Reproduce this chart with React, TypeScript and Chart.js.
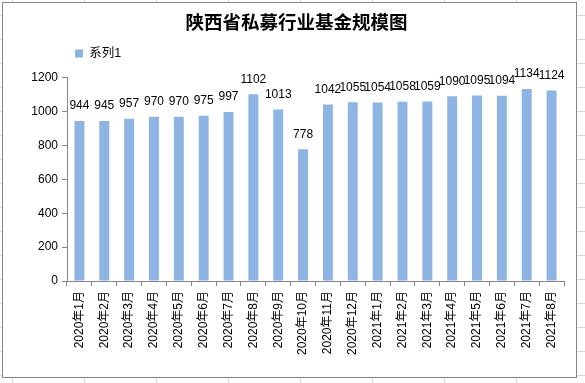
import React, { useEffect, useRef } from "react";
import { Chart, registerables } from "chart.js";

Chart.register(...registerables);

const chartTitle = "陕西省私募行业基金规模图";
const seriesName = "系列1";
const categories = [
  "2020年1月", "2020年2月", "2020年3月", "2020年4月", "2020年5月",
  "2020年6月", "2020年7月", "2020年8月", "2020年9月", "2020年10月",
  "2020年11月", "2020年12月", "2021年1月", "2021年2月", "2021年3月",
  "2021年4月", "2021年5月", "2021年6月", "2021年7月", "2021年8月",
];
const values = [
  944, 945, 957, 970, 970, 975, 997, 1102, 1013, 778,
  1042, 1055, 1054, 1058, 1059, 1090, 1095, 1094, 1134, 1124,
];
const yMin = 0;
const yMax = 1200;
const yStep = 200;

const SANS = '"Liberation Sans", Arial, "Noto Sans CJK SC", sans-serif';
const AXIS = "#868686";
const BAR = "#8EB4E3";
const LEGEND_PAD = 18;
const LEGEND_X = 72;
const LEGEND_LIFT = 8;

const dataLabelPlugin = {
  id: "dataLabels",
  afterDatasetsDraw(chart: any) {
    const ctx = chart.ctx;
    const meta = chart.getDatasetMeta(0);
    ctx.save();
    ctx.font = `12px ${SANS}`;
    ctx.fillStyle = "#000";
    ctx.textAlign = "center";
    ctx.textBaseline = "middle";
    meta.data.forEach((bar: any, i: number) => {
      ctx.fillText(String(values[i]), bar.x, bar.y - 15);
    });
    ctx.restore();
  },
};

const legendShiftPlugin = {
  id: "legendShift",
  afterLayout(chart: any) {
    const lg = chart.legend;
    if (!lg) return;
    const w = lg.right - lg.left;
    lg.left = LEGEND_X - LEGEND_PAD;
    lg.right = lg.left + w;
    lg.top -= LEGEND_LIFT;
    lg.bottom -= LEGEND_LIFT;
  },
};

export default function App() {
  const ref = useRef<HTMLCanvasElement | null>(null);

  useEffect(() => {
    if (!ref.current) return;
    const chart = new Chart(ref.current, {
      type: "bar",
      data: {
        labels: categories,
        datasets: [
          {
            label: seriesName,
            data: values,
            backgroundColor: BAR,
            borderWidth: 0,
            categoryPercentage: 0.8,
            barPercentage: 0.5,
          },
        ],
      },
      options: {
        responsive: false,
        animation: false,
        layout: { padding: { left: 26, right: 12, top: 0, bottom: 0 } },
        plugins: {
          title: {
            display: true,
            text: chartTitle,
            color: "#000",
            font: { family: '"Noto Sans CJK SC", sans-serif', size: 18.5, weight: "bold" },
            padding: { top: 8, bottom: 4 },
          },
          legend: {
            display: true,
            position: "top",
            align: "start",
            labels: {
              boxWidth: 8,
              boxHeight: 8,
              padding: LEGEND_PAD,
              color: "#000",
              font: { family: SANS, size: 12.5 },
            },
          },
          tooltip: { enabled: false },
        },
        scales: {
          x: {
            grid: {
              display: true,
              drawOnChartArea: false,
              drawTicks: true,
              tickLength: 5,
              color: AXIS,
              offset: true,
            },
            border: { display: true, color: AXIS },
            ticks: {
              autoSkip: false,
              maxRotation: 90,
              minRotation: 90,
              color: "#000",
              padding: 5,
              font: { family: SANS, size: 12 },
            },
            afterFit: (s: any) => {
              s.height = 96;
            },
          },
          y: {
            min: yMin,
            max: yMax,
            grid: {
              display: true,
              drawOnChartArea: false,
              drawTicks: true,
              tickLength: 5,
              color: AXIS,
            },
            border: { display: true, color: AXIS },
            ticks: {
              stepSize: yStep,
              color: "#000",
              padding: 4,
              font: { family: SANS, size: 12 },
              callback: (v: any) => String(v),
            },
            afterFit: (s: any) => {
              s.width = 38;
            },
          },
        },
      },
      plugins: [dataLabelPlugin, legendShiftPlugin],
    });
    return () => chart.destroy();
  }, []);

  return (
    <div
      style={{
        position: "fixed",
        left: 0,
        top: 0,
        width: 585,
        height: 383,
        background: "#fff",
        backgroundImage:
          "linear-gradient(to right, #d9d9d9 1px, transparent 1px), linear-gradient(to bottom, #d9d9d9 1px, transparent 1px)",
        backgroundSize: "72px 100%, 100% 24px",
        backgroundPosition: "12px 0, 0 15px",
        overflow: "hidden",
      }}
    >
      <div
        style={{
          position: "absolute",
          left: 2,
          top: 2,
          width: 575,
          height: 376,
          boxSizing: "border-box",
          border: `1px solid ${AXIS}`,
          background: "#fff",
        }}
      >
        <canvas ref={ref} width={573} height={374} style={{ display: "block" }} />
      </div>
    </div>
  );
}
